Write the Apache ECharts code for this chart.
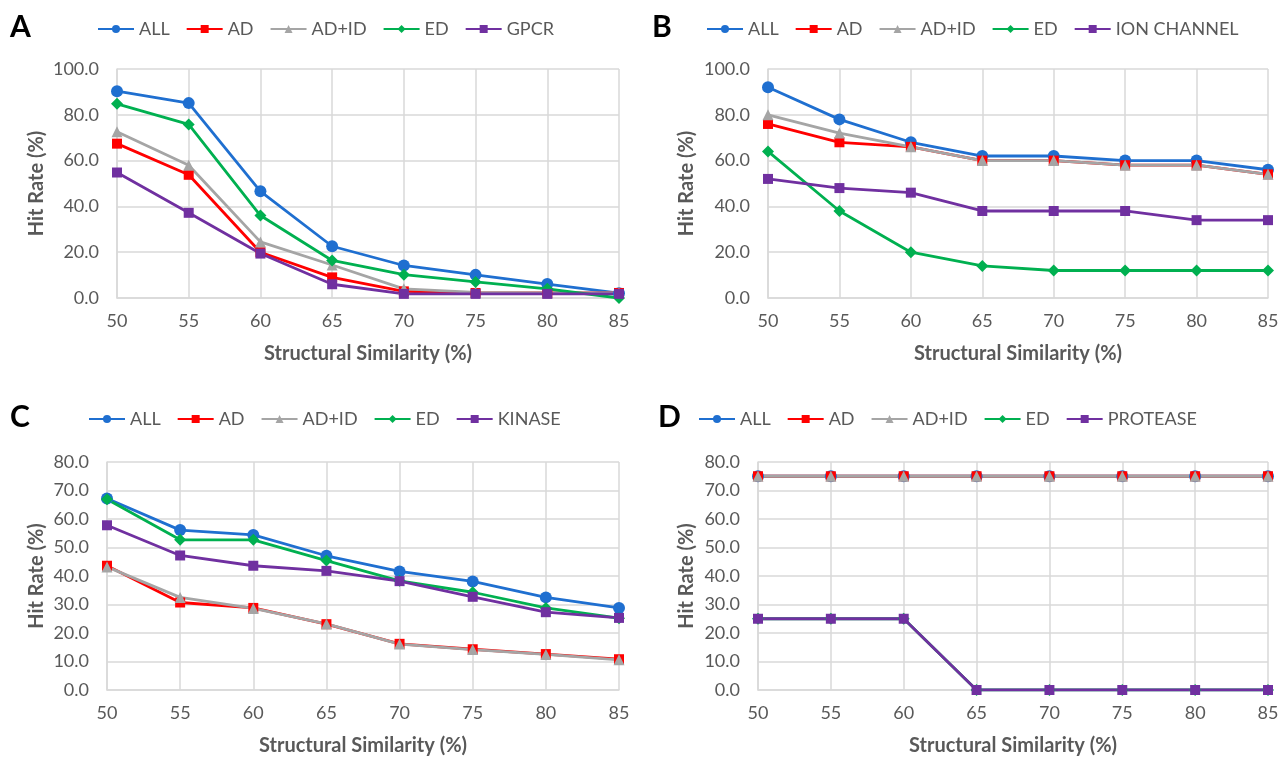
<!DOCTYPE html>
<html lang="en">
<head>
<meta charset="UTF-8">
<title>Hit rate vs structural similarity</title>
<script src="https://cdn.jsdelivr.net/npm/echarts@6/dist/echarts.min.js"></script>
<style>
  html, body, #main { width: 100%; height: 100%; margin: 0; padding: 0; background: #fff; overflow: hidden; }
</style>
</head>
<body>
<div id="main"></div>
<script>
// x categories (structural similarity, %)
var similarity = ['50', '55', '60', '65', '70', '75', '80', '85'];
var seriesNames = ['ALL', 'AD', 'AD+ID', 'ED'];

// panel A - GPCR
var allA  = [90.3, 85.1, 46.6, 22.6, 14.2, 10.1, 6.1, 2.1];
var adA   = [67.4, 53.8, 20.0, 9.0, 2.9, 2.2, 2.2, 2.2];
var adidA = [72.6, 58.0, 24.5, 14.4, 4.0, 2.5, 2.2, 2.2];
var edA   = [84.8, 75.8, 36.0, 16.4, 10.2, 7.0, 4.0, 0.0];
var gpcrA = [54.8, 37.2, 19.4, 6.0, 1.8, 1.8, 1.8, 1.8];

// panel B - ION CHANNEL
var allB  = [92, 78, 68, 62, 62, 60, 60, 56];
var adB   = [76, 68, 66, 60, 60, 58, 58, 54];
var adidB = [80, 72, 66, 60, 60, 58, 58, 54];
var edB   = [64, 38, 20, 14, 12, 12, 12, 12];
var ionB  = [52, 48, 46, 38, 38, 38, 34, 34];

// panel C - KINASE
var allC  = [67.2, 56.1, 54.4, 47.1, 41.6, 38.1, 32.5, 28.8];
var adC   = [43.6, 30.7, 28.8, 23.1, 16.2, 14.3, 12.6, 10.8];
var adidC = [43.2, 32.5, 28.6, 23.2, 16.1, 14.2, 12.5, 10.6];
var edC   = [66.9, 52.7, 52.7, 45.4, 38.3, 34.3, 28.8, 25.2];
var kinC  = [57.8, 47.2, 43.6, 41.8, 38.2, 32.7, 27.3, 25.3];

// panel D - PROTEASE
var allD  = [75, 75, 75, 75, 75, 75, 75, 75];
var adD   = [75, 75, 75, 75, 75, 75, 75, 75];
var adidD = [75, 75, 75, 75, 75, 75, 75, 75];
var edD   = [25, 25, 25, 0, 0, 0, 0, 0];
var proD  = [25, 25, 25, 0, 0, 0, 0, 0];

var FONT = 'Lato';
var GREY_TXT = '#595959';
var GRID_CLR = '#d9d9d9';

// colour + marker for each line, same order as the legend
var styles = [
  { color: '#1f6fd0', symbol: 'circle',   size: 12 },
  { color: '#ff0000', symbol: 'rect',     size: 10 },
  { color: '#a5a5a5', symbol: 'triangle', size: 11 },
  { color: '#00b050', symbol: 'diamond',  size: 12 },
  { color: '#7030a0', symbol: 'rect',     size: 10 }
];

var panels = [
  { tag: 'A', last: 'GPCR',        data: [allA, adA, adidA, edA, gpcrA], max: 100, step: 20,
    grid: { left: 117, top: 69, width: 502, height: 229 }, legend: { left: 92, top: 15 }, tagPos: [10, 12], nameGap: 70 },
  { tag: 'B', last: 'ION CHANNEL', data: [allB, adB, adidB, edB, ionB],  max: 100, step: 20,
    grid: { left: 768, top: 69, width: 500, height: 229 }, legend: { left: 701, top: 15 }, tagPos: [652, 12], nameGap: 71 },
  { tag: 'C', last: 'KINASE',      data: [allC, adC, adidC, edC, kinC],  max: 80, step: 10,
    grid: { left: 107, top: 462, width: 512, height: 228 }, legend: { left: 83, top: 405 }, tagPos: [10, 402], nameGap: 60 },
  { tag: 'D', last: 'PROTEASE',    data: [allD, adD, adidD, edD, proD],  max: 80, step: 10,
    grid: { left: 758, top: 462, width: 510, height: 228 }, legend: { left: 693, top: 405 }, tagPos: [658, 402], nameGap: 61 }
];

var grids = [], xAxes = [], yAxes = [], legends = [], series = [], graphics = [];

panels.forEach(function (p, i) {
  grids.push(p.grid);
  xAxes.push({
    type: 'category', gridIndex: i, data: similarity, boundaryGap: false,
    name: 'Structural Similarity (%)', nameLocation: 'middle', nameGap: 46,
    nameTextStyle: { fontFamily: FONT, fontSize: 20, fontWeight: 'bold', color: GREY_TXT },
    axisLine: { lineStyle: { color: GRID_CLR, width: 1.5 } },
    axisTick: { show: false },
    axisLabel: { fontFamily: FONT, fontSize: 18, color: GREY_TXT, margin: 14 },
    splitLine: { show: true, lineStyle: { color: GRID_CLR, width: 1.5 } }
  });
  yAxes.push({
    type: 'value', gridIndex: i, min: 0, max: p.max, interval: p.step,
    name: 'Hit Rate (%)', nameLocation: 'middle', nameGap: p.nameGap,
    nameTextStyle: { fontFamily: FONT, fontSize: 20, fontWeight: 'bold', color: GREY_TXT },
    axisLine: { show: true, lineStyle: { color: GRID_CLR, width: 1.5 } },
    axisTick: { show: false },
    axisLabel: { fontFamily: FONT, fontSize: 18, color: GREY_TXT, margin: 18,
      formatter: function (v) { return v.toFixed(1); } },
    splitLine: { lineStyle: { color: GRID_CLR, width: 1.5 } }
  });
  var names = seriesNames.concat([p.last]);
  legends.push({
    left: p.legend.left, top: p.legend.top, data: names,
    itemWidth: 36, itemHeight: 10, itemGap: 16,
    textStyle: { fontFamily: FONT, fontSize: 18, color: GREY_TXT }
  });
  names.forEach(function (n, k) {
    var s = styles[k];
    series.push({
      name: n, type: 'line', xAxisIndex: i, yAxisIndex: i,
      data: p.data[k],
      symbol: s.symbol, symbolSize: s.size,
      lineStyle: { color: s.color, width: 2.8 },
      itemStyle: { color: s.color },
      emphasis: { disabled: true }
    });
  });
  graphics.push({
    type: 'text', left: p.tagPos[0], top: p.tagPos[1],
    style: { text: p.tag, font: 'bold 30px ' + FONT, fill: '#000' }
  });
});

var chart = echarts.init(document.getElementById('main'));
chart.setOption({
  animation: false,
  grid: grids,
  xAxis: xAxes,
  yAxis: yAxes,
  legend: legends,
  series: series,
  graphic: graphics
});
</script>
</body>
</html>
